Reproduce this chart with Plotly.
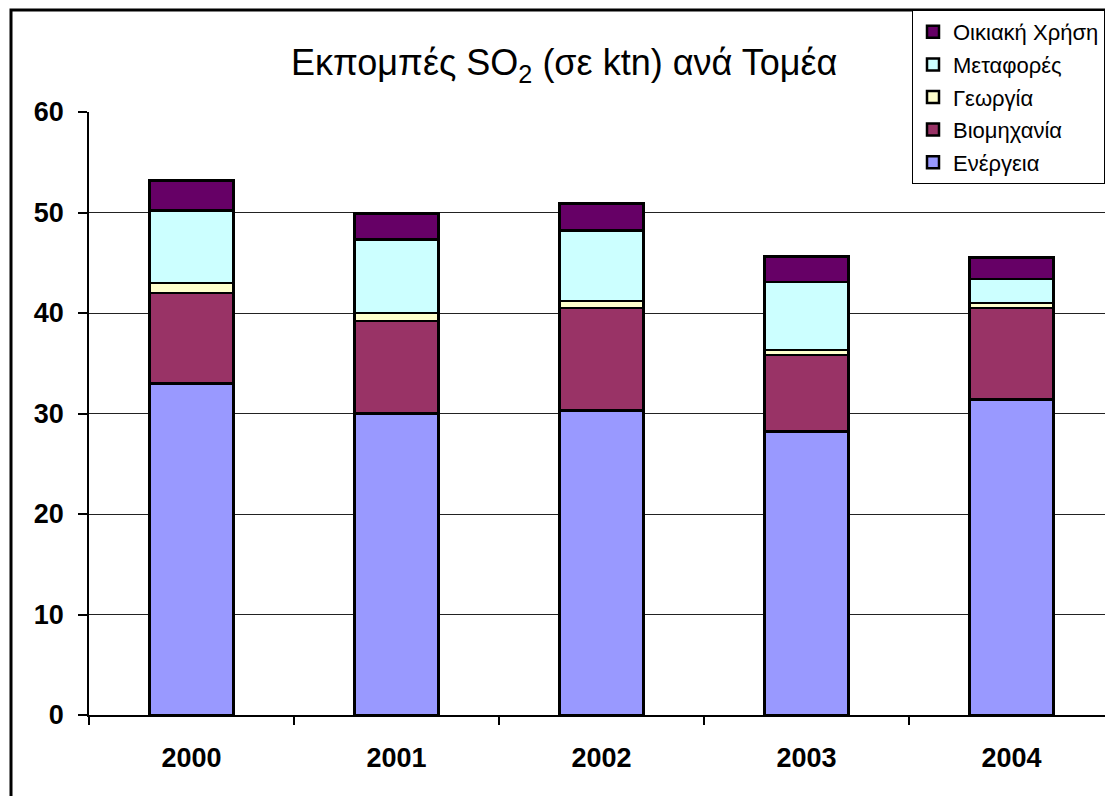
import plotly.graph_objects as go

years = ["2000", "2001", "2002", "2003", "2004"]
energeia = [33.0, 30.0, 30.3, 28.2, 31.4]
viomichania = [9.0, 9.2, 10.2, 7.6, 9.1]
georgia = [1.0, 0.8, 0.7, 0.5, 0.5]
metafores = [7.2, 7.3, 7.0, 6.8, 2.4]
oikiaki = [3.0, 2.6, 2.7, 2.5, 2.1]

series = [
    ("Ενέργεια", energeia, "#9999FF"),
    ("Βιομηχανία", viomichania, "#993366"),
    ("Γεωργία", georgia, "#FFFFCC"),
    ("Μεταφορές", metafores, "#CCFFFF"),
    ("Οικιακή Χρήση", oikiaki, "#660066"),
]

FONT = "Liberation Sans, Arial, sans-serif"

fig = go.Figure()
n = len(series)
for i, (name, vals, col) in enumerate(series):
    fig.add_trace(go.Bar(
        x=years, y=vals, name=name, legendgroup=name, legendrank=n - i,
        marker=dict(color=col, line=dict(color="black", width=2.5)),
        width=0.41,
    ))

W, H = 1105, 796
L, R, T, B = 89, 0, 112, 81
fig.update_layout(
    width=W, height=H,
    barmode="stack",
    plot_bgcolor="white", paper_bgcolor="white",
    margin=dict(l=L, r=R, t=T, b=B, autoexpand=False),
    font=dict(family=FONT, color="black"),
    showlegend=True,
    legend=dict(
        xref="container", yref="container",
        x=912 / W, y=1 - 10 / H, xanchor="left", yanchor="top",
        traceorder="grouped", tracegroupgap=1,
        bordercolor="black", borderwidth=1, bgcolor="white",
        font=dict(size=22, family=FONT),
        itemwidth=30,
    ),
    annotations=[dict(
        text="Εκπομπές SO<sub>2</sub> (σε ktn) ανά Τομέα",
        xref="paper", yref="paper",
        x=(564 - L) / (W - L), y=(715 - 65) / 603,
        xanchor="center", yanchor="middle", showarrow=False,
        font=dict(size=36, family=FONT),
    )],
    shapes=[dict(
        type="rect", xref="paper", yref="paper",
        x0=(11 - L) / (W - L), x1=1.2,
        y0=-0.3, y1=(715 - 10) / 603,
        line=dict(color="black", width=3), layer="above",
    )],
)
fig.update_xaxes(
    type="category", range=[-0.5, -0.5 + (W - L) / 205],
    showline=True, linecolor="black", linewidth=1.5,
    ticks="outside", tickson="boundaries", ticklen=8, tickcolor="black", tickwidth=1.5,
    ticklabelstandoff=18,
    tickfont=dict(size=27, family=FONT, weight="bold"),
    showgrid=False,
)
fig.update_yaxes(
    range=[0, 60], dtick=10,
    showline=True, linecolor="black", linewidth=1.5,
    ticks="outside", ticklen=9, tickcolor="black", tickwidth=1.5,
    ticklabelstandoff=9,
    showgrid=True, gridcolor="#222222", gridwidth=1,
    zeroline=False,
    tickfont=dict(size=27, family=FONT, weight="bold"),
)
fig.write_html(
    "out.html",
    config={"displayModeBar": False},
    post_script="document.body.style.margin='0px';document.body.style.overflow='hidden';",
)
